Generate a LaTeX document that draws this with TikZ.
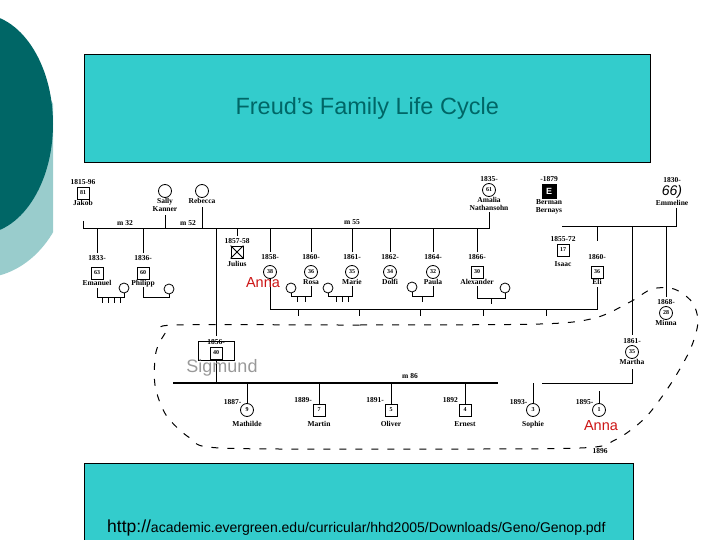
\documentclass[tikz,border=0pt]{standalone}
\usepackage{fontspec}
\setmainfont{Liberation Serif}
\setsansfont{Liberation Sans}
\definecolor{deepteal}{RGB}{0,102,102}
\definecolor{paleteal}{RGB}{153,204,204}
\definecolor{boxteal}{RGB}{51,204,204}
\definecolor{annared}{RGB}{204,20,20}
\newcommand{\genfont}{\rmfamily\fontsize{7.5}{8}\selectfont\bfseries}

\begin{document}
\begin{tikzpicture}[x=1pt, y=-1pt,
    male/.style={draw, thick, fill=white, minimum size=12pt, inner sep=0pt,
                 font=\rmfamily\fontsize{6}{6}\selectfont\bfseries},
    female/.style={male, circle, minimum size=13pt},
    spouse/.style={draw, thick, circle, fill=white, minimum size=10pt, inner sep=0pt},
    every label/.style={font=\genfont, inner sep=0.5pt, align=center},
    yr/.style={label={[label distance=1pt]above:#1}},
    yrfar/.style={label={[label distance=5pt]above:#1}},
    yrleft/.style={label={above left:#1}},
    nm/.style={label={below:#1}},
    nmfar/.style={label={[label distance=4pt]below:#1}},
    mnote/.style={font=\genfont},
    rel/.style={line width=1pt},
    tick/.style={line width=0.8pt},
    house/.style={dash pattern=on 7pt off 9pt, line width=1pt},
    banner/.style={draw, fill=boxteal, anchor=north west},
    over/.style={font=\sffamily\fontsize{14.5}{15}\selectfont, text=annared}
  ]
  \useasboundingbox (0,0) rectangle (720,540);

  % slide decoration
  \begin{scope}
    \clip (0,0) rectangle (53,540);
    \fill[paleteal] (-20,168) ellipse [x radius=90, y radius=110];
  \end{scope}
  \fill[deepteal] (-20,124) ellipse [x radius=73, y radius=110];

  \node[banner, minimum width=566pt, minimum height=108pt,
        font=\sffamily\fontsize{23.5}{24}\selectfont, text=deepteal] (title) at (84,54) {Freud’s Family Life Cycle};
  \node[banner, minimum width=549pt, minimum height=90pt] (source) at (84,463) {};
  \node[anchor=base west, inner sep=0pt, font=\sffamily] (url) at (107,532)
    {{\fontsize{17.5}{17}\selectfont http://}{\fontsize{14}{15}\selectfont academic.evergreen.edu/curricular/hhd2005/Downloads/Geno/Genop.pdf}};

  % first generation
  \node[male, yr=1815-96, nm=Jakob] (jakob) at (83,193) {81};
  \node[female, nm={Sally\\Kanner}] (sally) at (165,191) {};
  \node[female, nm=Rebecca] (rebecca) at (202,191) {};
  \node[female, yr=1835-, nm={Amalia\\Nathansohn}] (amalia) at (489,190) {61};
  \node[male, fill=black, text=white, minimum size=14pt, yr=-1879, nm={Berman\\Bernays}] (berman) at (549,191) {\sffamily\bfseries\small E};
  \node[inner sep=1pt, font=\sffamily\itshape\fontsize{14}{14}\selectfont, yr=1830-, nm=Emmeline] (emmeline) at (672,192) {66)};
  \node[mnote] (m32) at (125,223) {m 32};
  \node[mnote] (m52) at (188,223) {m 52};
  \node[mnote] (m55) at (352,222) {m 55};

  % second generation
  \node[male, yrfar=1833-, nm=Emanuel] (emanuel) at (97,273) {63};
  \node[male, yrfar=1836-, nm=Philipp] (philipp) at (143,273) {60};
  \node[male, yr=1856-] (sigmund) at (216,353) {40};
  \node[male, yr=1857-58, label={[label distance=2pt]below:Julius}] (julius) at (237,252) {};
  \node[female, yrfar=1858-] (anna-s) at (270,272) {38};
  \node[female, yrfar=1860-, nm=Rosa] (rosa) at (311,272) {36};
  \node[female, yrfar=1861-, nm=Marie] (marie) at (352,272) {35};
  \node[female, yrfar=1862-, nm=Dolfi] (dolfi) at (390,272) {34};
  \node[female, yrfar=1864-, nm=Paula] (paula) at (433,272) {32};
  \node[male, yrfar=1866-, nm=Alexander] (alexander) at (477,272) {30};
  \node[male, yr=1855-72, nmfar=Isaac] (isaac) at (563,250) {17};
  \node[male, yrfar=1860-, nm=Eli] (eli) at (597,272) {36};
  \node[female, yr=1861-, nm=Martha] (martha) at (632,352) {35};
  \node[female, yr=1868-, nm=Minna] (minna) at (666,313) {28};
  \draw[thick] (julius.north west) -- (julius.south east) (julius.north east) -- (julius.south west);

  % spouses of the siblings
  \node[spouse] (emanuel-w) at (124,288) {};
  \node[spouse] (philipp-w) at (169,289) {};
  \node[spouse] (rosa-h) at (291,288) {};
  \node[spouse] (marie-h) at (328,288) {};
  \node[spouse] (paula-h) at (412,287) {};
  \node[spouse] (alexander-w) at (505,288) {};

  % third generation
  \node[female, yrleft=1887-, nmfar=Mathilde] (mathilde) at (247,410) {9};
  \node[male, yrleft=1889-, nmfar=Martin] (martin) at (319,410) {7};
  \node[male, yrleft=1891-, nmfar=Oliver] (oliver) at (391,410) {5};
  \node[male, yrleft=1892, nmfar=Ernest] (ernest) at (465,410) {4};
  \node[female, yrleft=1893-, nmfar=Sophie] (sophie) at (533,410) {3};
  \node[female, yrleft=1895-] (anna) at (599,410) {1};
  \node[mnote] (m86) at (410,376) {m 86};
  \node[mnote] (y1896) at (600,451) {1896};

  \coordinate (jline-w) at (83,229);
  \coordinate (jline-e) at (489,229);
  \coordinate (bline-w) at (562,227);
  \coordinate (bline-e) at (676,227);
  \coordinate (eline) at (270,309);
  \coordinate (sline-w) at (173,383);
  \coordinate (sline-e) at (498,383);
  \coordinate (mline-w) at (542,383);

  \draw[rel] ([yshift=-28pt]jakob.center) -- (jline-w) -- (jline-e) -- ([yshift=17pt]jline-e);
  \draw[rel] ([yshift=-24pt]sally.center) -- (sally |- jline-w);
  \draw[rel] ([yshift=-16pt]rebecca.center) -- (rebecca |- jline-w);
  \foreach \k in {emanuel, philipp, anna-s, rosa, marie, dolfi, paula, alexander}
    \draw[rel] ([yshift=20pt]\k.center) -- (\k |- jline-w);
  \draw[rel] ([yshift=16pt]julius.center) -- (julius |- jline-w);
  \draw[rel] ([yshift=17pt]sigmund.center) -- (sigmund |- jline-w);

  % Bernays household
  \draw[rel] (bline-e) ++(0,-19) -- (bline-e) -- (bline-w);
  \draw[rel] (eli |- bline-w) -- ++(0,14);
  \draw[rel] (martha |- bline-w) -- ([yshift=17pt]martha.center);
  \draw[rel] (minna |- bline-w) -- ([yshift=16pt]minna.center);

  % Anna and Eli
  \draw[rel] (anna-s.south) -- (eline) -- (eline -| eli) -- ([yshift=-15pt]eli.center);
  \foreach \x in {298, 359, 420, 483, 546}
    \draw[tick] (\x,309) -- ++(0,7);

  % siblings' own families
  \draw[rel] ([yshift=-15pt]emanuel.center) -- ++(0,9) -| (emanuel-w.south);
  \foreach \x in {102, 108, 114, 120}
    \draw[tick] (\x,297) -- ++(0,6);
  \draw[rel] ([yshift=-14pt]philipp.center) -- ++(0,10) -| (philipp-w.south);
  \draw[rel] ([yshift=-14pt]rosa.center) -- ++(0,10) -| (rosa-h.south);
  \foreach \x in {297, 305}
    \draw[tick] (\x,296) -- ++(0,6);
  \draw[rel] ([yshift=-14pt]marie.center) -- ++(0,10) -| (marie-h.south);
  \foreach \x in {336, 342, 348}
    \draw[tick] (\x,296) -- ++(0,6);
  \draw[rel] ([yshift=-14pt]paula.center) -- ++(0,10) -| (paula-h.south);
  \draw[tick] (422,296) -- ++(0,6);
  \draw[rel] ([yshift=-14pt]alexander.center) -- ++(0,12) -| (alexander-w.south);
  \draw[tick] (491,298) -- ++(0,6);

  % Sigmund and Martha
  \draw[rel] (sigmund.south) -- (sigmund |- sline-w);
  \draw[rel, line width=1.3pt] (sline-w) -- (sline-e);
  \draw[rel] (mline-w) -| ([yshift=-17pt]martha.center);
  \foreach \k in {mathilde, martin, oliver, ernest, sophie}
    \draw[rel] (\k.north) -- (\k |- sline-w);
  \draw[rel] (anna.north) -- ++(0,-12);

  % household
  \draw[house] plot[smooth cycle] coordinates {(175,325) (360,325) (540,324) (595,318)
    (630,302) (652,289) (674,289) (692,302) (698,322) (690,350) (670,385) (645,418)
    (615,440) (580,448) (400,449) (220,448) (190,438) (166,415) (155,385) (156,352) (166,332)};

  \draw ([shift={(-11pt,5pt)}]sigmund.north west) rectangle ([shift={(12pt,-1pt)}]sigmund.south east);
  \node[font=\sffamily\fontsize{18}{18}\selectfont, text=black!40] (sigmund-lbl) at (222,368) {Sigmund};
  \node[over] (anna-s-lbl) at (263,283) {Anna};
  \node[over] (anna-lbl) at (601,426) {Anna};
\end{tikzpicture}
\end{document}
